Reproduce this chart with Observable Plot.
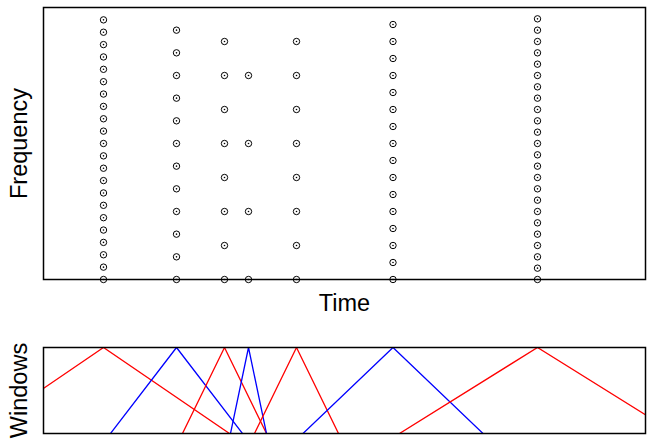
<!DOCTYPE html>
<html>
<head>
<meta charset="utf-8">
<script src="https://cdn.jsdelivr.net/npm/d3@7"></script>
<script src="https://cdn.jsdelivr.net/npm/@observablehq/plot@0.6"></script>
<style>
  body { margin: 0; background: #fff; }
  #chart svg { display: block; overflow: visible; }
</style>
</head>
<body>
<div id="chart"></div>
<script>
// Window centres (time units), window half-widths, and number of frequency bins per window
const centers    = [60, 133, 181, 205, 253, 349.5, 494];
const halfWidths = [126, 66, 42, 18, 42, 90, 138];
const bins       = [22, 12, 8, 4, 8, 16, 24];
const colors     = ["red", "blue", "red", "blue", "red", "blue", "red"];
const timeDomain = [0, 602];

// Lattice of time-frequency points (bins evenly spaced in [0,1) for each window)
const lattice = [];
centers.forEach((c, i) => {
  for (let k = 0; k < bins[i]; k++) lattice.push({time: c, freq: k / bins[i]});
});

// Triangular windows
const windows = [];
centers.forEach((c, i) => {
  const h = halfWidths[i];
  windows.push({id: i, time: c - h, v: 0, color: colors[i]});
  windows.push({id: i, time: c, v: 1, color: colors[i]});
  windows.push({id: i, time: c + h, v: 0, color: colors[i]});
});

const font = "Liberation Sans, Arial, Helvetica, sans-serif";

const topPlot = Plot.plot({
  width: 649,
  height: 330,
  marginLeft: 43,
  marginRight: 4,
  marginTop: 7,
  marginBottom: 51,
  style: {fontFamily: font, background: "white", overflow: "visible"},
  x: {domain: timeDomain, axis: null},
  y: {domain: [0, 1], axis: null},
  marks: [
    Plot.dot(lattice, {x: "time", y: "freq", r: 3.2, stroke: "black", strokeWidth: 1, fill: "none"}),
    Plot.dot(lattice, {x: "time", y: "freq", r: 0.8, fill: "black", stroke: "none"}),
    Plot.frame({stroke: "black", strokeWidth: 1.5}),
    Plot.text(["Time"], {frameAnchor: "bottom", dy: 24, textAnchor: "middle", lineAnchor: "middle", fontSize: 23.5, fill: "black"}),
    Plot.text(["Frequency"], {frameAnchor: "left", dx: -24, textAnchor: "middle", lineAnchor: "middle", rotate: -90, fontSize: 23.5, fill: "black"})
  ]
});

const bottomPlot = Plot.plot({
  width: 649,
  height: 114,
  marginLeft: 43,
  marginRight: 4,
  marginTop: 17,
  marginBottom: 11,
  style: {fontFamily: font, background: "transparent", overflow: "visible"},
  x: {domain: timeDomain, axis: null},
  y: {domain: [0, 1], axis: null},
  marks: [
    Plot.line(windows, {x: "time", y: "v", z: "id", stroke: "color", strokeWidth: 1.3, clip: true}),
    Plot.frame({stroke: "black", strokeWidth: 1.5}),
    Plot.text(["Windows"], {frameAnchor: "left", dx: -24, textAnchor: "middle", lineAnchor: "middle", rotate: -90, fontSize: 23.5, fill: "black"})
  ]
});

document.getElementById("chart").append(topPlot, bottomPlot);
</script>
</body>
</html>
